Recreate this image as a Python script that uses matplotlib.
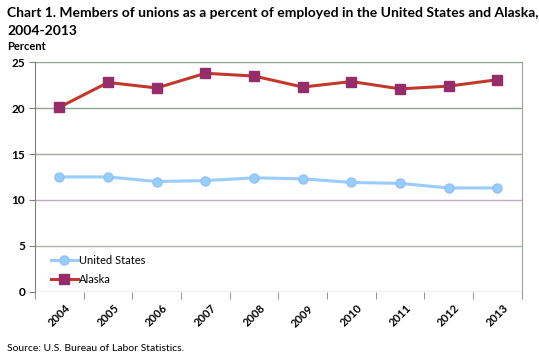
import numpy as np
import matplotlib
matplotlib.use("Agg")
import matplotlib.pyplot as plt

years = ["2004", "2005", "2006", "2007", "2008", "2009", "2010", "2011", "2012", "2013"]
us_rate = [12.5, 12.5, 12.0, 12.1, 12.4, 12.3, 11.9, 11.8, 11.3, 11.3]
alaska_rate = [20.1, 22.8, 22.2, 23.8, 23.5, 22.3, 22.9, 22.1, 22.4, 23.1]

plt.rcParams['font.family'] = ['Lato', 'DejaVu Sans']

fig = plt.figure(figsize=(5.39, 3.6), dpi=100)
ax = fig.add_axes([0.065, 0.19, 0.903, 0.637])

x = np.arange(len(years))
ax.plot(x, us_rate, color="#99ccff", lw=2.2, marker="o", ms=6.5,
        mfc="#99ccff", mec="#8fc2f5", label="United States", zorder=3)
ax.plot(x, alaska_rate, color="#c0392b", lw=2.2, marker="s", ms=6.5,
        mfc="#952d6a", mec="#952d6a", label="Alaska", zorder=3)

ax.set_xlim(-0.5, len(years) - 0.5)
ax.set_ylim(0, 25)
ax.set_yticks([0, 5, 10, 15, 20, 25])

grid_colors = {0: "#b8a4c0", 5: "#a8b8a4", 10: "#c4a8c8", 15: "#a0aca0", 20: "#8ea48e", 25: "#8ea48e"}
for v, c in grid_colors.items():
    ax.axhline(v, color=c, lw=1.0, zorder=1)

ax.set_xticks(x)
ax.set_xticklabels(years, rotation=45, fontsize=8, fontweight="bold", ha="center", va="top")
ax.tick_params(axis="x", length=0, pad=8)
ax.set_xticks(np.arange(-0.5, len(years)), minor=True)
ax.tick_params(axis="x", which="minor", length=5, color="#808080", direction="out")
ax.tick_params(axis="y", length=4, color="#808080", labelsize=8.5, pad=3)
for lbl in ax.get_yticklabels():
    lbl.set_fontweight("bold")

for s in ["top", "bottom"]:
    ax.spines[s].set_visible(False)
ax.spines["left"].set_color("#808080")
ax.spines["right"].set_color("#a0a0a0")

ax.legend(loc="lower left", bbox_to_anchor=(0.01, -0.02), frameon=False, fontsize=8,
          handlelength=2.4, handletextpad=0.15, labelspacing=0.75, borderaxespad=0.6)

fig.text(0.013, 0.965, "Chart 1. Members of unions as a percent of employed in the United States and Alaska,",
         fontsize=10, fontweight="bold", ha="left", va="center")
fig.text(0.013, 0.915, "2004-2013", fontsize=10, fontweight="bold", ha="left", va="center")
fig.text(0.013, 0.872, "Percent", fontsize=8, fontweight="bold", ha="left", va="center")
fig.text(0.013, 0.033, "Source: U.S. Bureau of Labor Statistics.", fontsize=7.5, ha="left", va="center")

fig.savefig("out.png", dpi=100)
